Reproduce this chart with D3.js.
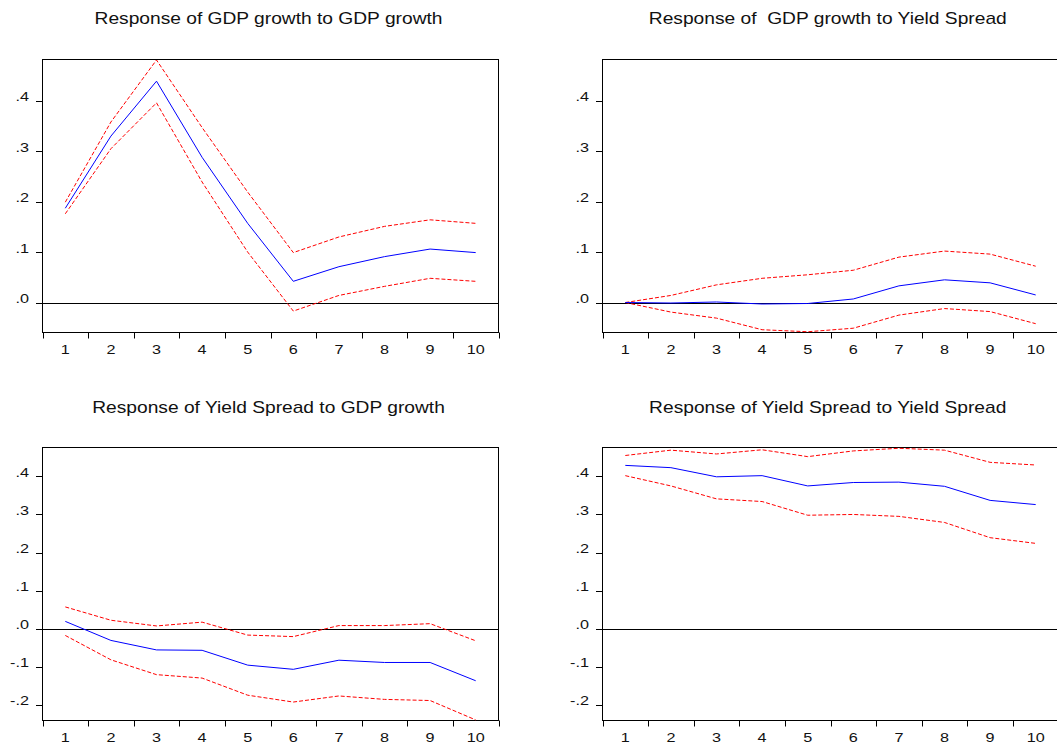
<!DOCTYPE html>
<html>
<head>
<meta charset="utf-8">
<script src="https://cdn.jsdelivr.net/npm/d3@7"></script>
<style>
  html, body { margin: 0; padding: 0; background: #ffffff; }
  svg { display: block; }
  text { font-family: "Liberation Sans", Arial, sans-serif; fill: #111; }
</style>
</head>
<body>
<svg id="chart" width="1057" height="749"></svg>
<script>
// Impulse response horizons
const steps = [1, 2, 3, 4, 5, 6, 7, 8, 9, 10];
const stepLabels = ["1", "2", "3", "4", "5", "6", "7", "8", "9", "10"];

// Value-axis ticks
const yTicksTop = [0, 0.1, 0.2, 0.3, 0.4];
const yTickLabelsTop = [".0", ".1", ".2", ".3", ".4"];
const yTicksBottom = [-0.2, -0.1, 0, 0.1, 0.2, 0.3, 0.4];
const yTickLabelsBottom = ["-.2", "-.1", ".0", ".1", ".2", ".3", ".4"];

// Panel titles
const titles = [
  "Response of GDP growth to GDP growth",
  "Response of  GDP growth to Yield Spread",
  "Response of Yield Spread to GDP growth",
  "Response of Yield Spread to Yield Spread"
];

// Response of GDP growth to GDP growth
const gdpGdp      = [0.187, 0.330, 0.439, 0.288, 0.157, 0.042, 0.071, 0.091, 0.106, 0.099];
const gdpGdpUpper = [0.199, 0.358, 0.481, 0.347, 0.219, 0.099, 0.130, 0.151, 0.164, 0.157];
const gdpGdpLower = [0.176, 0.305, 0.396, 0.239, 0.100, -0.017, 0.014, 0.032, 0.048, 0.042];

// Response of GDP growth to Yield Spread
const gdpYs      = [0.000, -0.001, 0.001, -0.003, -0.002, 0.007, 0.033, 0.045, 0.039, 0.015];
const gdpYsUpper = [0.000, 0.014, 0.035, 0.048, 0.055, 0.064, 0.090, 0.102, 0.096, 0.072];
const gdpYsLower = [0.000, -0.019, -0.031, -0.054, -0.058, -0.051, -0.025, -0.012, -0.018, -0.042];

// Response of Yield Spread to GDP growth
const ysGdp      = [0.019, -0.031, -0.056, -0.057, -0.096, -0.107, -0.083, -0.089, -0.089, -0.137];
const ysGdpUpper = [0.057, 0.022, 0.007, 0.017, -0.017, -0.021, 0.008, 0.008, 0.013, -0.032];
const ysGdpLower = [-0.018, -0.082, -0.121, -0.130, -0.175, -0.193, -0.177, -0.186, -0.189, -0.240];

// Response of Yield Spread to Yield Spread
const ysYs      = [0.429, 0.423, 0.399, 0.402, 0.375, 0.384, 0.385, 0.374, 0.337, 0.326];
const ysYsUpper = [0.455, 0.469, 0.459, 0.470, 0.452, 0.467, 0.474, 0.469, 0.437, 0.430];
const ysYsLower = [0.402, 0.375, 0.341, 0.334, 0.298, 0.300, 0.295, 0.279, 0.239, 0.224];

const svg = d3.select("#chart");
const stretch = 1.2; // horizontally widened lettering

const panels = [
  { title: titles[0], mid: gdpGdp, up: gdpGdpUpper, lo: gdpGdpLower,
    left: 42.5, right: 498.5, top: 59.5, bottom: 332.5,
    domain: [-0.0595, 0.482], ticks: yTicksTop, tickLabels: yTickLabelsTop, titleY: 23.5 },
  { title: titles[1], mid: gdpYs, up: gdpYsUpper, lo: gdpYsLower,
    left: 602.5, right: 1058.5, top: 59.5, bottom: 332.5,
    domain: [-0.0595, 0.482], ticks: yTicksTop, tickLabels: yTickLabelsTop, titleY: 23.5 },
  { title: titles[2], mid: ysGdp, up: ysGdpUpper, lo: ysGdpLower,
    left: 42.5, right: 498.5, top: 447.5, bottom: 720.5,
    domain: [-0.2415, 0.476], ticks: yTicksBottom, tickLabels: yTickLabelsBottom, titleY: 412.5 },
  { title: titles[3], mid: ysYs, up: ysYsUpper, lo: ysYsLower,
    left: 602.5, right: 1058.5, top: 447.5, bottom: 720.5,
    domain: [-0.2415, 0.476], ticks: yTicksBottom, tickLabels: yTickLabelsBottom, titleY: 412.5 }
];

panels.forEach(p => {
  const g = svg.append("g");
  const x = d3.scaleLinear().domain([0.5, 10.5]).range([p.left, p.right]);
  const y = d3.scaleLinear().domain(p.domain).range([p.bottom, p.top]);

  // Title
  const cx = (p.left + Math.min(p.right, 1057)) / 2 - 2;
  g.append("text")
    .attr("transform", `translate(${cx},${p.titleY}) scale(${stretch},1)`)
    .attr("text-anchor", "middle")
    .attr("font-size", 16)
    .style("white-space", "pre")
    .text(p.title);

  // Frame
  g.append("rect")
    .attr("x", p.left).attr("y", p.top)
    .attr("width", p.right - p.left).attr("height", p.bottom - p.top)
    .attr("fill", "none").attr("stroke", "#000").attr("stroke-width", 1);

  // Horizon ticks at band edges, labels at band centres
  const edges = d3.range(0.5, 11, 1);
  g.selectAll(".xt").data(edges).enter().append("line")
    .attr("x1", d => Math.round(x(d)) + 0.5).attr("x2", d => Math.round(x(d)) + 0.5)
    .attr("y1", p.bottom).attr("y2", p.bottom + 6)
    .attr("stroke", "#000").attr("stroke-width", 1);
  g.selectAll(".xl").data(steps).enter().append("text")
    .attr("transform", (d, i) => `translate(${x(d)},${p.bottom + 21}) scale(${stretch},1)`)
    .attr("text-anchor", "middle")
    .attr("font-size", 13.5)
    .text((d, i) => stepLabels[i]);

  // Value ticks on the left edge
  g.selectAll(".yt").data(p.ticks).enter().append("line")
    .attr("x1", p.left - 6.5).attr("x2", p.left)
    .attr("y1", d => Math.round(y(d)) + 0.5).attr("y2", d => Math.round(y(d)) + 0.5)
    .attr("stroke", "#000").attr("stroke-width", 1);
  g.selectAll(".yl").data(p.ticks).enter().append("text")
    .attr("transform", d => `translate(${p.left - 13.5},${y(d) + 0.5}) scale(${stretch},1)`)
    .attr("text-anchor", "end")
    .attr("font-size", 13.5)
    .text((d, i) => p.tickLabels[i]);

  // Zero reference line
  g.append("line")
    .attr("x1", p.left).attr("x2", p.right)
    .attr("y1", Math.round(y(0)) + 0.5).attr("y2", Math.round(y(0)) + 0.5)
    .attr("stroke", "#000").attr("stroke-width", 1);

  const line = d3.line().x((d, i) => x(steps[i])).y(d => y(d));

  // Confidence bands
  [p.up, p.lo].forEach(band => {
    g.append("path")
      .attr("d", line(band))
      .attr("fill", "none")
      .attr("stroke", "#ff0000")
      .attr("stroke-width", 1)
      .attr("stroke-dasharray", "4,2");
  });

  // Point response
  g.append("path")
    .attr("d", line(p.mid))
    .attr("fill", "none")
    .attr("stroke", "#0000ff")
    .attr("stroke-width", 1);
});
</script>
</body>
</html>
